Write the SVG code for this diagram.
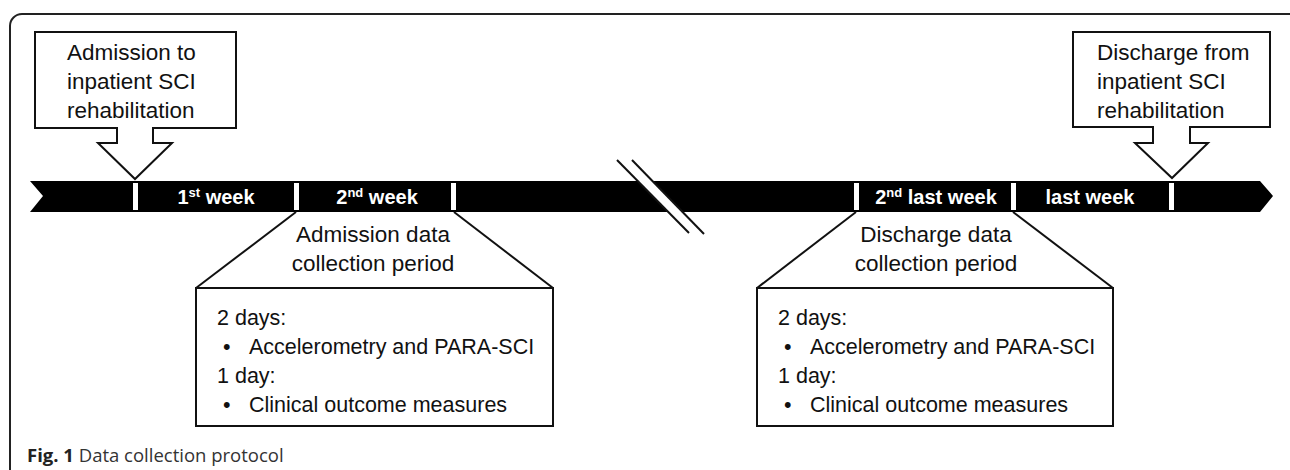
<svg xmlns="http://www.w3.org/2000/svg" width="1290" height="470" viewBox="0 0 1290 470">
<style>
.t{font-family:"Liberation Sans",Arial,sans-serif;font-size:21.5px;fill:#111}
.t2{font-family:"Liberation Sans",Arial,sans-serif;font-size:22.5px;fill:#111}
.c{text-anchor:middle}
.w{font-family:"Liberation Sans",Arial,sans-serif;font-size:20px;font-weight:bold;fill:#fff;text-anchor:middle}
.box{fill:#fff;stroke:#111;stroke-width:2}
.ln{stroke:#111;stroke-width:2;fill:none}
.tick{fill:#fff}
.cap{font-family:"Open Sans",sans-serif;font-size:18.5px;fill:#333}
</style>
<rect x="10" y="14" width="1300" height="500" rx="12" fill="#fff" stroke="#222" stroke-width="2"/>
<g id="timeline">
<path d="M30,181 H1260 L1273,196 L1260,212 H30 L43,196 Z" fill="#000"/>
<rect class="tick" x="133" y="183" width="5" height="27"/>
<rect class="tick" x="294" y="183" width="5" height="27"/>
<rect class="tick" x="451" y="183" width="5" height="27"/>
<rect class="tick" x="854" y="183" width="5" height="27"/>
<rect class="tick" x="1011" y="183" width="5" height="27"/>
<rect class="tick" x="1169" y="183" width="5" height="27"/>
<text class="w" x="216" y="204">1<tspan font-size="13" dy="-7">st</tspan><tspan dy="7"> week</tspan></text>
<text class="w" x="377" y="204">2<tspan font-size="13" dy="-7">nd</tspan><tspan dy="7"> week</tspan></text>
<text class="w" x="936" y="204">2<tspan font-size="13" dy="-7">nd</tspan><tspan dy="7"> last week</tspan></text>
<text class="w" x="1090" y="204">last week</text>
</g>
<g id="break">
<polygon points="617,160 632,160 704,234 689,233" fill="#fff"/>
<line class="ln" x1="617" y1="160" x2="689" y2="233" stroke-width="2.5"/>
<line class="ln" x1="632" y1="160" x2="704" y2="234" stroke-width="2.5"/>
</g>
<g id="admission-callout">
<path class="box" d="M35,32 H236 V128 H153 V143 H172 L135,179 L98,143 H117 V128 H35 Z"/>
<text class="t2" x="67" y="60">Admission to</text>
<text class="t2" x="67" y="89">inpatient SCI</text>
<text class="t2" x="67" y="118">rehabilitation</text>
</g>
<g id="discharge-callout">
<path class="box" d="M1073,32 H1270 V127 H1190 V143 H1208 L1172,178 L1135,143 H1153 V127 H1073 Z"/>
<text class="t2" x="1097" y="60">Discharge from</text>
<text class="t2" x="1097" y="89">inpatient SCI</text>
<text class="t2" x="1097" y="118">rehabilitation</text>
</g>
<g id="connectors">
<line class="ln" x1="296" y1="212" x2="196" y2="288"/>
<line class="ln" x1="454" y1="212" x2="553" y2="288"/>
<line class="ln" x1="856" y1="212" x2="757" y2="288"/>
<line class="ln" x1="1013" y1="212" x2="1113" y2="288"/>
</g>
<g id="admission-period">
<text class="t2 c" x="373" y="242">Admission data</text>
<text class="t2 c" x="373" y="271">collection period</text>
<rect class="box" x="196" y="288" width="357" height="138"/>
<text class="t" x="217" y="325">2 days:</text>
<text class="t" x="223" y="354">•</text>
<text class="t" x="249" y="354">Accelerometry and PARA-SCI</text>
<text class="t" x="217" y="383">1 day:</text>
<text class="t" x="223" y="412">•</text>
<text class="t" x="249" y="412">Clinical outcome measures</text>
</g>
<g id="discharge-period">
<text class="t2 c" x="936" y="242">Discharge data</text>
<text class="t2 c" x="936" y="271">collection period</text>
<rect class="box" x="757" y="288" width="356" height="138"/>
<text class="t" x="778" y="325">2 days:</text>
<text class="t" x="784" y="354">•</text>
<text class="t" x="810" y="354">Accelerometry and PARA-SCI</text>
<text class="t" x="778" y="383">1 day:</text>
<text class="t" x="784" y="412">•</text>
<text class="t" x="810" y="412">Clinical outcome measures</text>
</g>
<text class="cap" x="27" y="462"><tspan font-weight="bold" fill="#222">Fig. 1</tspan> Data collection protocol</text>
</svg>
